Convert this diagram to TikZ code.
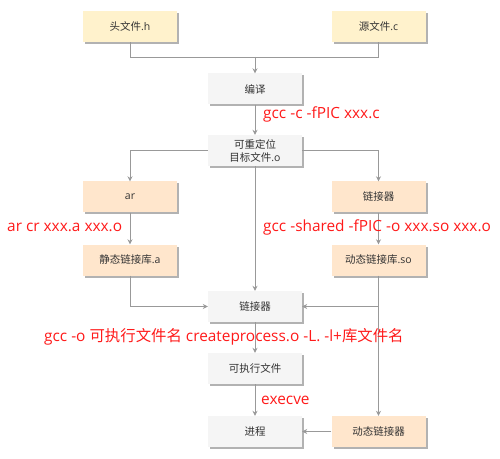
\documentclass[tikz,border=0pt]{standalone}
\usepackage{fontspec}
\setmainfont{Open Sans}
\newfontfamily\cjk{Noto Sans CJK SC}
\usetikzlibrary{arrows.meta,shadows}
\definecolor{lnc}{HTML}{999999}
\definecolor{yel}{HTML}{FFF2CC}
\definecolor{org}{HTML}{FFE6CC}
\definecolor{gry}{HTML}{F5F5F5}
\definecolor{redt}{HTML}{FF1A1A}
\begin{document}
\begin{tikzpicture}[x=1bp,y=-1bp,
  box/.style={minimum width=94bp,minimum height=31bp,inner sep=0pt,align=center,
    font=\fontsize{10.5bp}{13bp}\selectfont,text=black!80,
    drop shadow={shadow xshift=2bp,shadow yshift=-2bp,fill=black!30,opacity=1}},
  ybox/.style={box,fill=yel},
  obox/.style={box,fill=org},
  gbox/.style={box,fill=gry},
  ln/.style={draw=lnc,line width=0.8bp},
  arr/.style={ln,-{Stealth[length=5bp,width=5bp]}},
  cmd/.style={anchor=west,text=redt,inner sep=0pt,font=\fontsize{15.4bp}{17bp}\selectfont}]
\useasboundingbox (0,0) rectangle (500,459);
\node[ybox] (h) at (130,26.5) {{\cjk 头文件}.h};
\node[ybox] (c) at (378.5,26.5) {{\cjk 源文件}.c};
\node[gbox] (comp) at (255,89) {\cjk 编译};
\node[gbox] (rel) at (255,150.5) {\cjk 可重定位\\{\cjk 目标文件}.o};
\node[obox] (ar) at (130,197) {ar};
\node[obox] (ld1) at (378.5,197) {\cjk 链接器};
\node[obox] (sta) at (130,260) {{\cjk 静态链接库}.a};
\node[obox] (dyn) at (378.5,260) {{\cjk 动态链接库}.so};
\node[gbox] (ld2) at (255,306.5) {\cjk 链接器};
\node[gbox] (exe) at (255,368.5) {\cjk 可执行文件};
\node[gbox] (proc) at (255,431.5) {\cjk 进程};
\node[obox] (dld) at (378.5,431.5) {\cjk 动态链接器};
\coordinate (j1) at (255,57);
\coordinate (j2) at (378.5,306.5);
\draw[ln] (h.south) |- (j1);
\draw[ln] (c.south) |- (j1);
\draw[arr] (j1) -- (comp.north);
\draw[arr] (comp) -- (rel);
\draw[arr] (rel.west) -| (ar.north);
\draw[arr] (rel.east) -| (ld1.north);
\draw[arr] (ar) -- (sta);
\draw[arr] (ld1) -- (dyn);
\draw[arr] (rel) -- (ld2);
\draw[arr] (sta.south) |- (ld2.west);
\draw[arr] (j2) -- (ld2.east);
\draw[arr] (dyn.south) -- (dld.north);
\draw[arr] (ld2) -- (exe);
\draw[arr] (exe) -- (proc);
\draw[arr] (dld) -- (proc);
\node[cmd] (t1) at (263,114) {gcc -c -fPIC xxx.c};
\node[cmd] (t2) at (7,227) {ar cr xxx.a xxx.o};
\node[cmd] (t3) at (263,227) {gcc -shared -fPIC -o xxx.so xxx.o};
\node[cmd] (t4) at (44,337) {gcc -o {\cjk 可执行文件名} createprocess.o -L. -l+{\cjk 库文件名}};
\node[cmd] (t5) at (261,400) {execve};
\end{tikzpicture}
\end{document}
